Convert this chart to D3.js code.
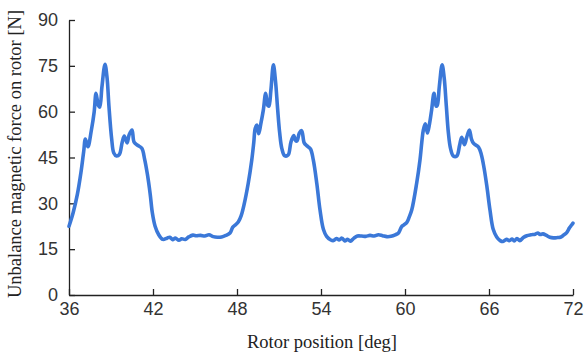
<!DOCTYPE html>
<html>
<head>
<meta charset="utf-8">
<script src="https://cdn.jsdelivr.net/npm/d3@7"></script>
<style>
  html, body { margin: 0; padding: 0; background: #fff; }
  svg { display: block; }
</style>
</head>
<body>
<svg id="chart" width="588" height="358"></svg>
<script>
// Rotor position [deg]
const positions = [
  36.0, 36.3, 36.6, 36.85, 37.05, 37.17, 37.35, 37.6, 37.8, 37.93, 38.1, 38.2, 38.35, 38.57, 38.72, 38.85,
  39.05, 39.2, 39.4, 39.6, 39.8, 39.95, 40.15, 40.3, 40.5, 40.65, 40.9, 41.2, 41.4, 41.6, 41.8, 41.95,
  42.15, 42.4, 42.7, 43.0, 43.2, 43.4, 43.6, 43.85, 44.05, 44.3, 44.55, 44.85, 45.1, 45.4, 45.7, 46.0,
  46.3, 46.6, 46.9, 47.2, 47.5, 47.7, 47.9,
  48.1, 48.3, 48.5, 48.8, 49.05, 49.2, 49.3, 49.42, 49.55, 49.7, 49.88, 50.05, 50.2, 50.28, 50.42, 50.6,
  50.75, 50.9, 51.05, 51.2, 51.4, 51.65, 51.85, 52.05, 52.2, 52.3, 52.45, 52.62, 52.8, 53.0, 53.25, 53.45,
  53.7, 53.93, 54.17, 54.4, 54.7, 54.9, 55.1, 55.3, 55.5, 55.7, 55.9, 56.1, 56.35, 56.6, 56.9, 57.2,
  57.5, 57.8, 58.1, 58.4, 58.7, 59.0, 59.3, 59.55, 59.75, 59.9,
  60.12, 60.3, 60.48, 60.83, 61.07, 61.2, 61.31, 61.45, 61.6, 61.75, 61.9, 62.07, 62.22, 62.3, 62.45, 62.65,
  62.8, 62.95, 63.1, 63.25, 63.45, 63.7, 63.9, 64.05, 64.25, 64.4, 64.6, 64.75, 64.9, 65.25, 65.45, 65.65,
  65.85, 66.07, 66.3, 66.55, 66.8, 67.0, 67.25, 67.45, 67.65, 67.8, 68.0, 68.2, 68.45, 68.7, 69.0, 69.3,
  69.5, 69.65, 69.85, 70.1, 70.35, 70.6, 70.9, 71.1, 71.3, 71.55, 71.75, 71.9, 72.0
];
// Unbalance magnetic force on rotor [N]
const forces = [
  22.5, 27.0, 33.0, 40.0, 47.0, 51.0, 48.5, 54.0, 60.0, 66.0, 62.0, 61.5, 68.0, 75.5, 71.0, 62.0,
  51.0, 46.5, 45.5, 46.0, 50.0, 52.0, 49.8, 52.5, 54.0, 50.0, 49.0, 48.0, 44.5, 39.5, 33.0, 27.0,
  22.5, 19.8, 18.2, 18.6, 18.9, 18.1, 18.6, 17.9, 18.4, 18.2, 19.0, 19.6, 19.4, 19.5, 19.3, 19.7,
  19.1, 18.9, 19.0, 19.5, 20.3, 22.2, 23.0,
  24.0, 26.0, 29.5, 36.5, 44.0, 50.0, 54.5, 55.6, 52.8, 56.0, 60.5, 66.0, 62.0, 61.8, 67.0, 75.3,
  70.0, 61.0, 53.0, 48.0, 45.6, 45.8, 50.0, 52.2, 50.4, 50.5, 53.0, 53.8, 49.8, 48.8, 47.8, 44.2,
  36.5, 27.8, 21.5, 19.2, 18.0, 17.8, 18.5, 18.0, 18.6, 17.7, 18.2, 17.6, 18.6, 19.3, 19.3, 19.2,
  19.5, 19.3, 19.7, 19.4, 19.1, 19.2, 19.7, 20.4, 22.3, 22.9,
  23.7, 25.5, 27.8, 36.5, 44.2, 50.0, 54.0, 56.0, 53.0, 56.0, 60.5, 66.0, 61.8, 62.0, 68.2, 75.3,
  71.0, 62.0, 53.0, 48.0, 45.5, 45.5, 49.0, 51.6, 49.2, 51.5, 54.0, 51.0, 49.6, 48.4, 46.0, 41.5,
  35.5, 27.8, 21.5, 19.0, 17.8, 17.5, 18.2, 17.8, 18.3, 17.7, 18.5, 17.8, 18.8, 19.4, 19.7, 19.9,
  20.3, 19.8, 20.0, 19.5, 18.9, 18.7, 18.8, 18.9, 19.5, 20.4, 22.0, 22.9, 23.5
];
const xTicks = [36, 42, 48, 54, 60, 66, 72];
const yTicks = [0, 15, 30, 45, 60, 75, 90];
const xTitle = "Rotor position [deg]";
const yTitle = "Unbalance magnetic force on rotor [N]";

const data = positions.map((p, i) => ({ x: p, y: forces[i] }));

const svg = d3.select("#chart");
const mLeft = 69, mRight = 573, mTop = 20, mBottom = 295;

const x = d3.scaleLinear().domain([36, 72]).range([mLeft, mRight]);
const y = d3.scaleLinear().domain([0, 90]).range([mBottom, mTop]);

const axisColor = "#222";

// X axis (ticks pointing inward/up)
const gx = svg.append("g").attr("transform", `translate(0,${mBottom})`)
  .call(d3.axisBottom(x).tickValues(xTicks).tickSizeInner(-6).tickSizeOuter(0).tickPadding(10).tickFormat(d3.format("d")));
gx.select(".domain").attr("stroke", axisColor).attr("stroke-width", 1.3);
gx.selectAll(".tick line").attr("stroke", axisColor).attr("stroke-width", 1.3);
gx.selectAll(".tick text").attr("fill", "#333").attr("font-family", "'Liberation Sans', Arial, sans-serif").attr("font-size", 18).attr("dy", "0.71em").attr("y", 7);

// Y axis (ticks pointing inward/right)
const gy = svg.append("g").attr("transform", `translate(${mLeft},0)`)
  .call(d3.axisLeft(y).tickValues(yTicks).tickSizeInner(-6).tickSizeOuter(0).tickPadding(11).tickFormat(d3.format("d")));
gy.select(".domain").attr("stroke", axisColor).attr("stroke-width", 1.3);
gy.selectAll(".tick line").attr("stroke", axisColor).attr("stroke-width", 1.3);
gy.selectAll(".tick text").attr("fill", "#333").attr("font-family", "'Liberation Sans', Arial, sans-serif").attr("font-size", 18).attr("x", -11);

// Line
const line = d3.line().x(d => x(d.x)).y(d => y(d.y)).curve(d3.curveCatmullRom.alpha(0.5));
svg.append("path").datum(data)
  .attr("fill", "none")
  .attr("stroke", "#3b78d8")
  .attr("stroke-width", 3.6)
  .attr("stroke-linejoin", "round")
  .attr("stroke-linecap", "round")
  .attr("d", line);

// Titles
svg.append("text")
  .attr("x", (mLeft + mRight) / 2 + 1).attr("y", 348)
  .attr("text-anchor", "middle")
  .attr("font-family", "'Liberation Serif', 'Times New Roman', serif")
  .attr("font-size", 18.5).attr("fill", "#222")
  .text(xTitle);

svg.append("text")
  .attr("transform", `translate(21,${154}) rotate(-90)`)
  .attr("text-anchor", "middle")
  .attr("font-family", "'Liberation Serif', 'Times New Roman', serif")
  .attr("font-size", 18.5).attr("fill", "#222")
  .text(yTitle);
</script>
</body>
</html>
